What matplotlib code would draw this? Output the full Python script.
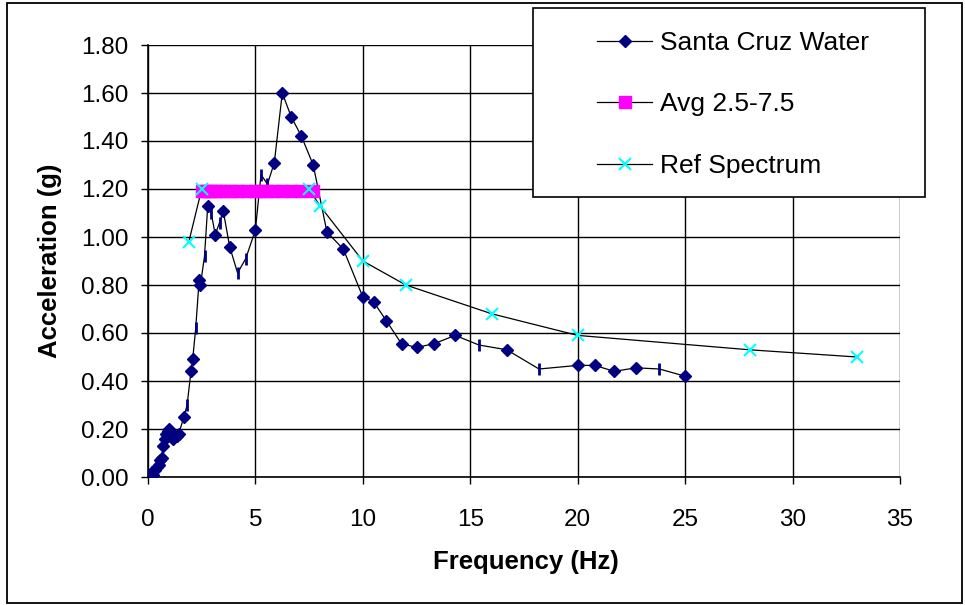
import matplotlib
matplotlib.use("Agg")
import matplotlib.pyplot as plt
from matplotlib.lines import Line2D
from matplotlib.patches import Rectangle

plt.rcParams['font.family'] = ['Liberation Sans', 'DejaVu Sans']

# Santa Cruz Water spectrum
sc_freq = [0.10, 0.20, 0.25, 0.33, 0.40, 0.50, 0.56, 0.63, 0.71, 0.77, 0.83, 0.91, 1.00, 1.11,
           1.18, 1.25, 1.33, 1.43, 1.67, 1.82, 2.00, 2.08, 2.22, 2.38, 2.44, 2.63, 2.78, 2.94,
           3.13, 3.33, 3.50, 3.80, 4.17, 4.55, 5.00, 5.26, 5.56, 5.88, 6.25, 6.67, 7.14, 7.69,
           8.33, 9.09, 10.0, 10.5, 11.1, 11.8, 12.5, 13.3, 14.3, 15.4, 16.7, 18.2, 20.0, 20.8,
           21.7, 22.7, 23.8, 25.0]
sc_acc = [0.01, 0.02, 0.01, 0.03, 0.04, 0.05, 0.07, 0.08, 0.13, 0.16, 0.18, 0.19, 0.20, 0.18,
          0.16, 0.17, 0.17, 0.18, 0.25, 0.30, 0.44, 0.49, 0.62, 0.82, 0.80, 0.92, 1.13, 1.10,
          1.01, 1.06, 1.11, 0.96, 0.85, 0.91, 1.03, 1.26, 1.22, 1.31, 1.60, 1.50, 1.42, 1.30,
          1.02, 0.95, 0.75, 0.73, 0.65, 0.555, 0.54, 0.555, 0.59, 0.55, 0.53, 0.45, 0.465, 0.465,
          0.44, 0.455, 0.45, 0.42]
# points that show up only as a thin tick in the original
sc_thin = [1.82, 2.22, 2.63, 2.94, 3.33, 4.17, 4.55, 5.26, 5.56, 15.4, 18.2, 23.8]

# average 2.5-7.5 Hz
avg_freq = [2.50, 2.63, 2.78, 2.94, 3.13, 3.33, 3.57, 3.85, 4.17, 4.55, 5.00, 5.26, 5.56,
            5.88, 6.25, 6.67, 7.14, 7.69]
avg_acc = [1.19, 1.19, 1.19, 1.19, 1.19, 1.19, 1.19, 1.19, 1.19, 1.19, 1.19, 1.19, 1.19,
           1.19, 1.19, 1.19, 1.19, 1.19]

# reference spectrum
ref_freq = [1.9, 2.5, 7.5, 8.0, 10, 12, 16, 20, 28, 33]
ref_acc = [0.98, 1.20, 1.20, 1.13, 0.90, 0.80, 0.68, 0.59, 0.53, 0.50]

labels = ['Santa Cruz Water', 'Avg 2.5-7.5', 'Ref Spectrum']
navy = '#000080'
magenta = '#FF00FF'
cyan = '#00FFFF'

W, H = 965, 605
fig = plt.figure(figsize=(W / 100, H / 100), dpi=100)
ax = fig.add_axes([148 / W, 1 - 477 / H, (900 - 148) / W, (477 - 45) / H])

# lines first (all series), markers on top like Excel
ax.plot(sc_freq, sc_acc, color='black', lw=0.9, zorder=2)
ax.plot(avg_freq, avg_acc, color='black', lw=0.9, zorder=2)
ax.plot(ref_freq, ref_acc, color='black', lw=0.9, zorder=2)

dia_f = [f for f in sc_freq if f not in sc_thin]
dia_a = [a for f, a in zip(sc_freq, sc_acc) if f not in sc_thin]
thin_a = [a for f, a in zip(sc_freq, sc_acc) if f in sc_thin]
ax.plot(dia_f, dia_a, ls='none', marker='D', ms=6.2, color=navy, zorder=3)
ax.plot(sc_thin, thin_a, ls='none', marker='|', ms=9, mew=2, color=navy, zorder=3)
ax.plot(avg_freq, avg_acc, ls='none', marker='s', ms=8.5, color=magenta, mec=magenta, zorder=4)
ax.plot(ref_freq, ref_acc, ls='none', marker='x', ms=8.5, mew=1.5, color=cyan, zorder=5)

ax.set_xlim(0, 35)
ax.set_ylim(0, 1.8)
ax.set_xticks(range(0, 36, 5))
ax.set_yticks([i * 0.2 for i in range(10)])
ax.set_yticklabels(['%.2f' % (i * 0.2) for i in range(10)])
ax.tick_params(axis='both', direction='out', length=5, width=1, color='black', labelsize=17.5)
ax.tick_params(axis='y', pad=9)
ax.tick_params(axis='x', pad=18)
ax.grid(True, color='black', lw=1.0)
ax.set_axisbelow(True)
for s in ['top', 'right']:
    ax.spines[s].set_visible(False)
for s in ['left', 'bottom']:
    ax.spines[s].set_linewidth(1.2)

fig.text(526 / W, 1 - 562 / H, 'Frequency (Hz)', ha='center', va='center',
         fontsize=18.5, fontweight='bold')
fig.text(50 / W, 1 - 261 / H, 'Acceleration (g)', ha='center', va='center',
         rotation=90, fontsize=18.5, fontweight='bold')

# legend box
fig.patches.append(Rectangle((533 / W, 1 - 197 / H), (925 - 533) / W, (197 - 8) / H,
                             transform=fig.transFigure, facecolor='white',
                             edgecolor='black', lw=1.2, zorder=4))
handles = [
    Line2D([], [], color='black', lw=0.9, marker='D', ms=6.2, mfc=navy, mec=navy),
    Line2D([], [], color='black', lw=0.9, marker='s', ms=8.5, mfc=magenta, mec=magenta),
    Line2D([], [], color='black', lw=0.9, marker='x', ms=8.5, mew=1.5, mec=cyan),
]
leg = fig.legend(handles, labels, loc='upper left', bbox_to_anchor=(597 / W, 1 - 31 / H),
                 frameon=False, fontsize=19, handlelength=2.1, handletextpad=0.3,
                 labelspacing=1.42, borderpad=0, borderaxespad=0)
leg.set_zorder(6)

# outer chart border
fig.patches.append(Rectangle((7 / W, 2 / H), (962 - 7) / W, (602 - 2) / H,
                             transform=fig.transFigure, fill=False,
                             edgecolor='black', lw=1.3, zorder=1))

fig.savefig('out.png', dpi=100)
